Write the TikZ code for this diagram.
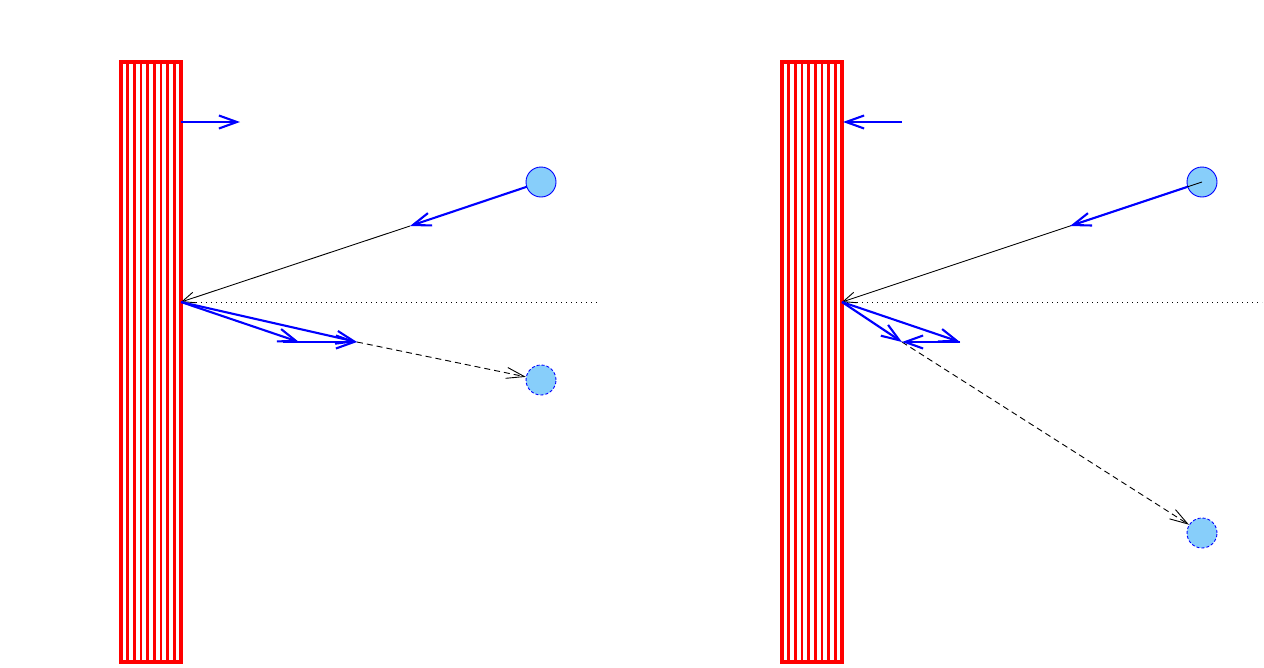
\documentclass[tikz,border=0pt]{standalone}
\usetikzlibrary{arrows.meta}
\definecolor{ballfill}{HTML}{87CEFA}
\begin{document}
\begin{tikzpicture}[x=1pt,y=-1pt,
  wall/.style={draw=red,line width=4.5pt},
  hatch/.style={red,line width=2.4pt},
  vec/.style={blue,line width=2.1pt,-{Straight Barb[length=18pt,width=13pt,line width=2.1pt]}},
  thin/.style={black,line width=0.9pt,-{Straight Barb[length=13pt,width=11pt,line width=0.9pt]}},
  dashedarrow/.style={black,dash pattern=on 6pt off 4pt,line width=0.9pt,-{Straight Barb[length=18pt,width=11pt,line width=0.9pt]}},
  dotline/.style={black,line width=1pt,dash pattern=on 1pt off 4pt},
  ballst/.style={circle,draw=blue,line width=0.9pt,fill=ballfill,minimum size=30pt,inner sep=0pt},
  ballmoved/.style={ballst,dash pattern=on 3pt off 2pt}]
\useasboundingbox (0,0) rectangle (1264,667);
% ---------- left panel ----------
\foreach \k in {1,...,8} \draw[hatch] (121+\k*60/9,62) -- (121+\k*60/9,662);
\draw[wall] (121,62) rectangle (181,662);
\coordinate (wL) at (181,122);
\coordinate (wLend) at (240,122);
\draw[vec] (wL) -- (wLend);
\coordinate (c1) at (541,182);
\coordinate (hitL) at (181,302);
\coordinate (vinL) at (410,226);
\coordinate (dotL) at (600,302);
\draw[dotline] (hitL) -- (dotL);
\draw[thin] (vinL) -- (hitL);
\draw[vec] (c1) -- (vinL);
\node[ballst] (b1) at (c1) {};
\coordinate (rL1) at (299,342);
\coordinate (rL2) at (357,342);
\coordinate (hL) at (283,342);
\node[ballmoved] (b2) at (541,380) {};
\draw[dashedarrow] (rL2) -- (b2);
\draw[vec] (hitL) -- (rL1);
\draw[vec] (hitL) -- (rL2);
\draw[vec] (hL) -- (rL2);
% ---------- right panel ----------
\foreach \k in {1,...,8} \draw[hatch] (782+\k*60/9,62) -- (782+\k*60/9,662);
\draw[wall] (782,62) rectangle (842,662);
\coordinate (wR) at (843,122);
\coordinate (wRstart) at (902,122);
\draw[vec] (wRstart) -- (wR);
\coordinate (c3) at (1202,182);
\coordinate (hitR) at (842,302);
\coordinate (vinR) at (1070,226);
\coordinate (dotR) at (1262,302);
\draw[dotline] (hitR) -- (dotR);
\node[ballst] (b3) at (c3) {};
\draw[thin] (c3) -- (hitR);
\draw[vec] (b3) -- (vinR);
\coordinate (rR1) at (902,342);
\coordinate (rR2) at (960,342);
\node[ballmoved] (b4) at (1202,533) {};
\draw[dashedarrow] (rR1) -- (b4);
\draw[vec] (hitR) -- (rR1);
\draw[vec] (hitR) -- (rR2);
\draw[vec] (rR2) -- (rR1);
\end{tikzpicture}
\end{document}
